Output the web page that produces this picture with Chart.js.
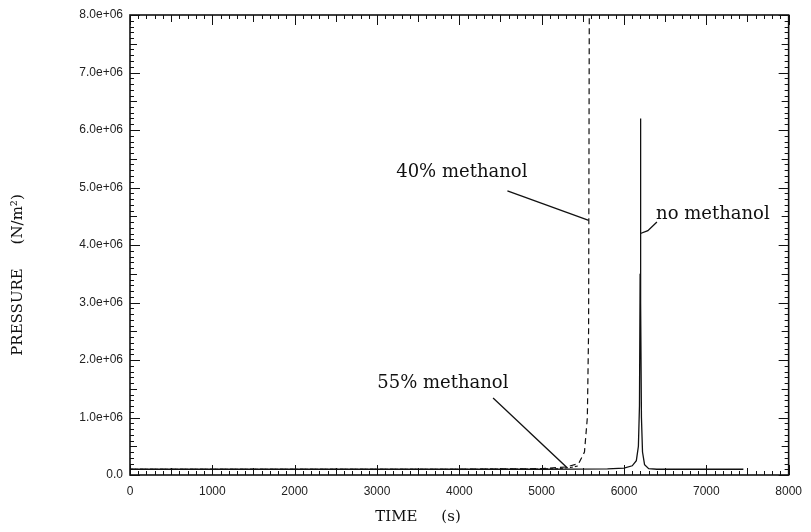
<!DOCTYPE html>
<html>
<head>
<meta charset="utf-8">
<script src="https://cdn.jsdelivr.net/npm/chart.js@4.4.1/dist/chart.umd.min.js"></script>
<style>
html, body { margin: 0; padding: 0; background: #fff; }
</style>
</head>
<body>
<canvas id="chart" width="811" height="532"></canvas>
<script>
// axis ticks
const timeTicks = [0, 1000, 2000, 3000, 4000, 5000, 6000, 7000, 8000];
const pressureTicks = [0, 1e6, 2e6, 3e6, 4e6, 5e6, 6e6, 7e6, 8e6];

// no methanol (solid)
const noMethTime = [0, 1000, 2000, 3000, 4000, 5000, 5800, 6000, 6100, 6150, 6175, 6188, 6196, 6200, 6204, 6212, 6225, 6250, 6300, 6400, 7000, 7450];
const noMethP = [1e5, 1e5, 1e5, 1e5, 1e5, 1e5, 1.05e5, 1.2e5, 1.6e5, 2.5e5, 5e5, 1.2e6, 3.5e6, 6.2e6, 3e6, 1e6, 4e5, 1.8e5, 1.1e5, 1e5, 1e5, 1e5];

// 40% methanol (dashed, goes off scale)
const meth40Time = [0, 1000, 2000, 3000, 4000, 5000, 5300, 5450, 5520, 5555, 5570, 5580];
const meth40P = [1e5, 1e5, 1e5, 1e5, 1e5, 1.1e5, 1.4e5, 2e5, 4e5, 1e6, 2.5e6, 9e6];

// 55% methanol (short dash, stays low)
const meth55Time = [0, 1000, 2000, 3000, 4000, 5000, 5200, 5350, 5450];
const meth55P = [1e5, 1e5, 1e5, 1e5, 1e5, 1.05e5, 1.1e5, 1.3e5, 1.6e5];

// labels with leader lines, in data units
const notes = [
  { text: '40% methanol', at: [4030, 5.27e6], path: [[4584, 4.94e6], [5572, 4.43e6]] },
  { text: '55% methanol', at: [3800, 1.6e6], path: [[4410, 1.34e6], [5310, 1.25e5]] },
  { text: 'no methanol', at: [7080, 4.54e6], path: [[6400, 4.4e6], [6290, 4.25e6], [6200, 4.2e6]] }
];

function pts(xs, ys) {
  return xs.map((v, i) => ({ x: v, y: ys[i] }));
}

const frameTicks = {
  id: 'frameTicks',
  afterDatasetsDraw(chart) {
    const { ctx, chartArea: a, scales: { x, y } } = chart;
    ctx.save();
    ctx.strokeStyle = '#111';
    ctx.lineWidth = 1.6;
    ctx.strokeRect(a.left, a.top, a.right - a.left, a.bottom - a.top);
    ctx.lineWidth = 1;
    ctx.beginPath();
    for (let i = 0; i <= 80; i++) {
      const len = i % 10 === 0 ? 10 : (i % 5 === 0 ? 7 : 4);
      const px = Math.round(x.getPixelForValue(i * 100)) + 0.5;
      ctx.moveTo(px, a.bottom); ctx.lineTo(px, a.bottom - len);
      ctx.moveTo(px, a.top); ctx.lineTo(px, a.top + len);
      const py = Math.round(y.getPixelForValue(i * 1e5)) + 0.5;
      ctx.moveTo(a.left, py); ctx.lineTo(a.left + len, py);
      ctx.moveTo(a.right, py); ctx.lineTo(a.right - len, py);
    }
    ctx.stroke();

    // annotations
    ctx.fillStyle = '#111';
    ctx.font = '18px "DejaVu Serif"';
    ctx.textAlign = 'center';
    ctx.textBaseline = 'middle';
    ctx.lineWidth = 1.3;
    notes.forEach(n => {
      ctx.fillText(n.text, x.getPixelForValue(n.at[0]), y.getPixelForValue(n.at[1]));
      ctx.beginPath();
      n.path.forEach((p, i) => {
        const px = x.getPixelForValue(p[0]), py = y.getPixelForValue(p[1]);
        if (i === 0) ctx.moveTo(px, py); else ctx.lineTo(px, py);
      });
      ctx.stroke();
    });

    // axis titles
    ctx.font = '15px "DejaVu Serif"';
    ctx.fillText('TIME     (s)', 418, 517);
    ctx.translate(18, 275);
    ctx.rotate(-Math.PI / 2);
    ctx.fillText('PRESSURE     (N/m²)', 0, 0);
    ctx.restore();
  }
};

new Chart(document.getElementById('chart'), {
  type: 'line',
  data: {
    datasets: [{
      label: 'no methanol',
      data: pts(noMethTime, noMethP),
      borderColor: '#111',
      borderWidth: 1.3
    }, {
      label: '40% methanol',
      data: pts(meth40Time, meth40P),
      borderColor: '#111',
      borderWidth: 1.2,
      borderDash: [6, 4]
    }, {
      label: '55% methanol',
      data: pts(meth55Time, meth55P),
      borderColor: '#111',
      borderWidth: 1.1,
      borderDash: [3, 2]
    }]
  },
  options: {
    responsive: false,
    animation: false,
    layout: { padding: { left: 0, top: 15, right: 22, bottom: 0 } },
    elements: { point: { radius: 0 }, line: { tension: 0 } },
    scales: {
      x: {
        type: 'linear',
        min: 0,
        max: 8000,
        afterBuildTicks: s => { s.ticks = timeTicks.map(v => ({ value: v })); },
        afterFit: s => { s.height = 57; },
        grid: { display: false, drawTicks: false },
        border: { display: false },
        ticks: {
          padding: 9,
          color: '#222',
          font: { family: 'Liberation Sans', size: 12 },
          maxRotation: 0,
          callback: v => String(v)
        }
      },
      y: {
        type: 'linear',
        min: 0,
        max: 8e6,
        afterBuildTicks: s => { s.ticks = pressureTicks.map(v => ({ value: v })); },
        afterFit: s => { s.width = 130; },
        grid: { display: false, drawTicks: false },
        border: { display: false },
        ticks: {
          padding: 7,
          color: '#222',
          font: { family: 'Liberation Sans', size: 12 },
          callback: v => v === 0 ? '0.0' : (v / 1e6).toFixed(1) + 'e+06'
        }
      }
    },
    plugins: {
      legend: { display: false },
      tooltip: { enabled: false }
    }
  },
  plugins: [frameTicks]
});
</script>
</body>
</html>
